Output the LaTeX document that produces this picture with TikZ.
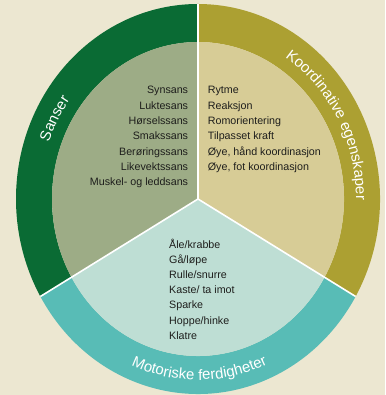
\documentclass[tikz,border=0pt]{standalone}
\usepackage{fontspec}
\newfontfamily\lsans{Liberation Sans}
\usetikzlibrary{decorations.text}
\definecolor{bgc}{RGB}{236,231,209}
\definecolor{gring}{RGB}{10,107,52}
\definecolor{ginner}{RGB}{157,172,134}
\definecolor{oring}{RGB}{172,160,50}
\definecolor{oinner}{RGB}{215,204,150}
\definecolor{tring}{RGB}{88,188,182}
\definecolor{tinner}{RGB}{190,222,212}
\definecolor{itemc}{RGB}{30,30,28}
\newcommand\itemfont{\lsans\fontsize{10.7}{12}\selectfont}
\newcommand\ringfont{\lsans\fontsize{15}{15}\selectfont}
\begin{document}
\begin{tikzpicture}[x=1pt,y=1pt,
  item/.style={font=\itemfont, text=itemc, inner sep=0pt},
  divider/.style={white, line width=1.6pt},
  ringlabel/.style={decorate, decoration={text along path, text align=center, text color=white, text={|\ringfont|#1}}}]
\useasboundingbox (0,0) rectangle (385,395);
\fill[bgc] (0,0) rectangle (385,395);
\coordinate (C) at (198,196);
\begin{scope}[shift={(C)}]
  % outer ring segments
  \fill[gring] (90:182 and 195) arc[start angle=90,end angle=210,x radius=182,y radius=195]
     -- (210:146 and 157) arc[start angle=210,end angle=90,x radius=146,y radius=157] -- cycle;
  \fill[tring] (210:182 and 195) arc[start angle=210,end angle=330,x radius=182,y radius=195]
     -- (330:146 and 157) arc[start angle=330,end angle=210,x radius=146,y radius=157] -- cycle;
  \fill[oring] (-30:182 and 195) arc[start angle=-30,end angle=90,x radius=182,y radius=195]
     -- (90:146 and 157) arc[start angle=90,end angle=-30,x radius=146,y radius=157] -- cycle;
  % inner sectors
  \fill[ginner] (0,0) -- (90:146 and 157) arc[start angle=90,end angle=210,x radius=146,y radius=157] -- cycle;
  \fill[tinner] (0,0) -- (210:146 and 157) arc[start angle=210,end angle=330,x radius=146,y radius=157] -- cycle;
  \fill[oinner] (0,0) -- (-30:146 and 157) arc[start angle=-30,end angle=90,x radius=146,y radius=157] -- cycle;
  % dividers
  \draw[divider] (0,0) -- (90:182 and 195);
  \draw[divider] (0,0) -- (210:182 and 195);
  \draw[divider] (0,0) -- (330:182 and 195);
  % ring labels
  \path[ringlabel=Sanser] (182:158 and 170) arc[start angle=182,end angle=122,x radius=158,y radius=170];
  \path[ringlabel=Koordinative egenskaper] (72:158 and 170) arc[start angle=72,end angle=-15,x radius=158,y radius=170];
  \path[ringlabel=Motoriske ferdigheter] (225:169 and 181) arc[start angle=225,end angle=316,x radius=169,y radius=181];
\end{scope}
% item texts
\foreach \t [count=\i] in {Synsans,Luktesans,Hørselssans,Smakssans,Berøringssans,Likevektssans,Muskel- og leddsans}
  \node[item, anchor=base east] (s\i) at (188.3,{301-(\i-1)*15.3}) {\t};
\foreach \t [count=\i] in {Rytme,Reaksjon,Romorientering,Tilpasset kraft,{Øye, hånd koordinasjon},{Øye, fot koordinasjon}}
  \node[item, anchor=base west] (k\i) at (207.7,{301-(\i-1)*15.3}) {\t};
\foreach \t [count=\i] in {Åle/krabbe,Gå/løpe,Rulle/snurre,Kaste/ ta imot,Sparke,Hoppe/hinke,Klatre}
  \node[item, anchor=base west] (m\i) at (169,{146.7-(\i-1)*15.17}) {\t};
\end{tikzpicture}
\end{document}
